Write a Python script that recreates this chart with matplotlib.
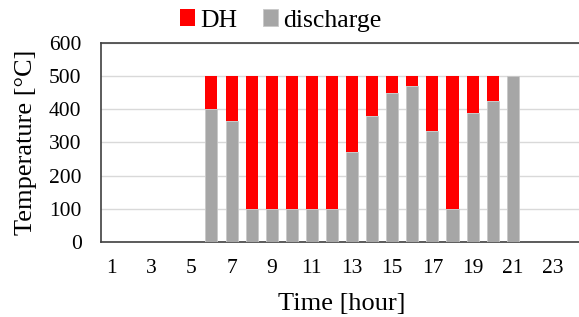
import matplotlib.pyplot as plt
import numpy as np

plt.rcParams['font.family'] = ['Liberation Serif', 'DejaVu Serif']

hours = np.arange(1, 25)
discharge = [0, 0, 0, 0, 0, 400, 365, 100, 100, 100, 100, 100, 270, 380,
             450, 470, 335, 100, 390, 425, 500, 0, 0, 0]
total = [0, 0, 0, 0, 0, 500, 500, 500, 500, 500, 500, 500, 500, 500,
         500, 500, 500, 500, 500, 500, 500, 0, 0, 0]
dh = [t - d for t, d in zip(total, discharge)]

fig = plt.figure(figsize=(5.79, 3.17), dpi=100)
ax = fig.add_axes([0.1744, 0.2366, 0.8326, 0.6278])

ax.bar(hours, discharge, width=0.6, color='#a6a6a6', edgecolor='#c8c8c8',
       linewidth=0.6, label='discharge', zorder=3)
ax.bar(hours, dh, width=0.6, bottom=discharge, color='#ff0000',
       linewidth=0, label='DH', zorder=3)

ax.set_xlim(0.5, 24.5)
ax.set_ylim(0, 600)
ax.set_yticks(range(0, 601, 100))
ax.set_xticks(range(1, 24, 2))
ax.yaxis.grid(True, color='#d9d9d9', linewidth=1, zorder=0)
ax.tick_params(length=0, labelsize=15.5)
ax.tick_params(axis='y', pad=14)
ax.tick_params(axis='x', pad=12)

for side in ['top', 'left', 'bottom']:
    ax.spines[side].set_color('#404040')
    ax.spines[side].set_linewidth(1.2)
ax.spines['right'].set_visible(False)

ax.set_xlabel('Time [hour]', fontsize=19, labelpad=11)
ax.set_ylabel('Temperature [\u00b0C]', fontsize=19, labelpad=9)

handles, labels = ax.get_legend_handles_labels()
fig.legend(handles[::-1], labels[::-1], loc='center', bbox_to_anchor=(0.485, 0.935),
           ncol=2, frameon=False, fontsize=18.5, handlelength=0.6, handleheight=0.6,
           handletextpad=0.2, columnspacing=1.0, borderpad=0)

fig.savefig('out.png', dpi=100)
